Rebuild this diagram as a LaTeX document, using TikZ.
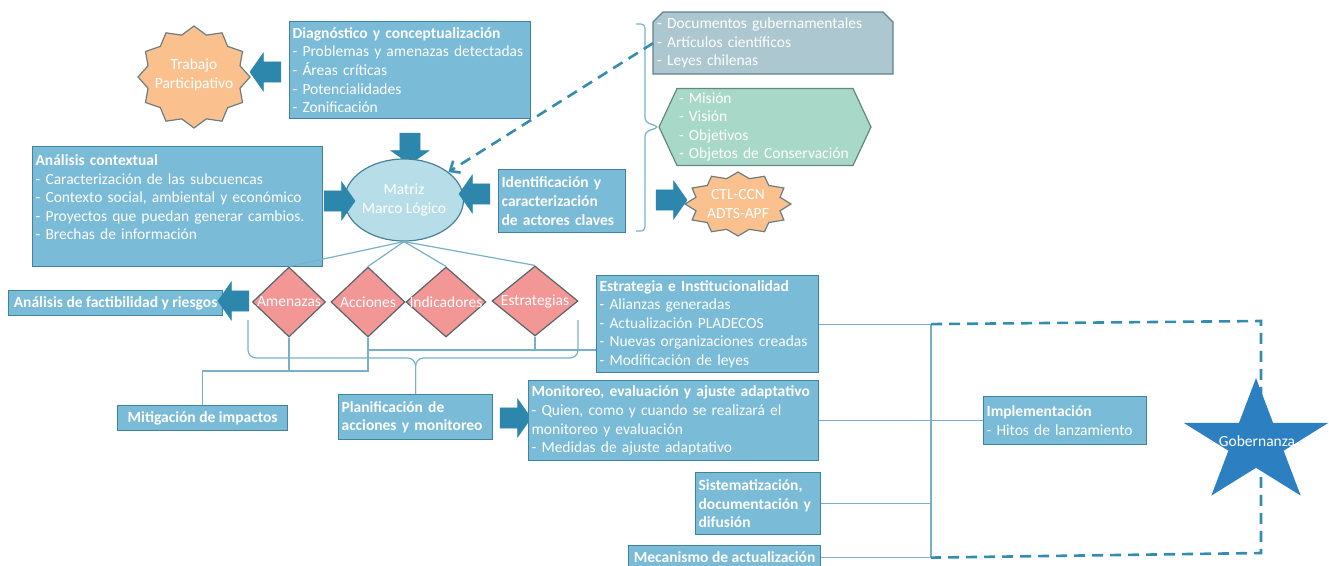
\documentclass[tikz,border=0pt]{standalone}
\usepackage{fontspec}
\setmainfont{Carlito}
\usetikzlibrary{shapes.geometric,shapes.arrows,shapes.symbols,arrows.meta}

\definecolor{boxblue}{RGB}{122,187,216}
\definecolor{boxedge}{RGB}{62,132,160}
\definecolor{arrowblue}{RGB}{45,134,172}
\definecolor{linkblue}{RGB}{120,176,200}
\definecolor{dashblue}{RGB}{52,140,176}
\definecolor{ellfill}{RGB}{183,222,232}
\definecolor{elledge}{RGB}{70,130,150}
\definecolor{rombofill}{RGB}{243,150,150}
\definecolor{romboedge}{RGB}{90,100,105}
\definecolor{sealfill}{RGB}{250,193,143}
\definecolor{sealedge}{RGB}{110,125,128}
\definecolor{docfill}{RGB}{172,199,208}
\definecolor{docedge}{RGB}{100,130,140}
\definecolor{misfill}{RGB}{168,216,199}
\definecolor{misedge}{RGB}{100,135,130}
\definecolor{govblue}{RGB}{44,128,194}

\newcommand{\diagfont}{\fontsize{15.5}{18.6}\selectfont}

\begin{document}
\begin{tikzpicture}[x=1pt,y=-1pt,
    box/.style={draw=boxedge,fill=boxblue,text=white,align=left,anchor=north west,inner sep=3pt,line width=1.2pt,font=\diagfont},
    hbox/.style={box,font=\diagfont\bfseries},
    bigarrow/.style={single arrow,fill=arrowblue,draw=arrowblue,inner xsep=0pt,inner ysep=10pt,single arrow head extend=9pt,single arrow tip angle=110,minimum height=31pt},
    link/.style={draw=linkblue,line width=1.2pt},
    dashlink/.style={draw=dashblue,line width=2.6pt,dash pattern=on 11pt off 7pt},
    rombo/.style={diamond,draw=romboedge,fill=rombofill,line width=1.2pt,inner sep=0pt,minimum height=70pt},
    romtext/.style={text=white,font=\diagfont},
    seal/.style={draw=sealedge,fill=sealfill,line width=1.2pt},
    lighttext/.style={text=white,align=center,font=\diagfont}]
  \useasboundingbox (0,0) rectangle (1329,565);

  % top row
  \filldraw[seal] (250,77) \foreach \i in {1,...,23} {-- ({194+56*cos(15*\i)*(1-0.15*mod(\i,2))},{77+51*sin(15*\i)*(1-0.15*mod(\i,2))})} -- cycle;
  \node[lighttext] (trabajo) at (194,75) {Trabajo\\Participativo};
  \node[box,text width=235pt,minimum height=97pt] (diag) at (289,21)
    {\textbf{Diagnóstico y conceptualización}\\- Problemas y amenazas detectadas\\- Áreas críticas\\- Potencialidades\\- Zonificación};
  \node[bigarrow,rotate=180] (adiag) at (269,72) {};
  \node[bigarrow,rotate=-90] (amat) at (410,145) {};

  % documentos, mision, actores
  \filldraw[draw=docedge,fill=docfill,line width=1.2pt] (653,74) -- (653,22) -- (663,12) -- (883,12) -- (893,22) -- (893,74) -- cycle;
  \node[text=white,align=left,font=\diagfont,anchor=north west,text width=232pt,minimum height=62pt,inner sep=4pt] (docs) at (653,12)
    {- Documentos gubernamentales\\- Artículos científicos\\- Leyes chilenas};
  \node[signal,signal to=west and east,signal pointer angle=130,draw=misedge,fill=misfill,line width=1.2pt,text=white,align=left,font=\diagfont,
    text width=172pt,minimum height=77pt,inner sep=2pt] (mision) at (765,127)
    {- Misión\\- Visión\\- Objetivos\\- Objetos de Conservación};
  \draw[linkblue,line width=1.2pt,rounded corners=4pt] (636,24) -- (645,24) -- (645,122) -- (659,127) -- (645,132) -- (645,231) -- (636,231);
  \filldraw[seal] (791,204) \foreach \i in {1,...,23} {-- ({738+53*cos(15*\i)*(1-0.18*mod(\i,2))},{204+32*sin(15*\i)*(1-0.18*mod(\i,2))})} -- cycle;
  \node[lighttext] (ctl) at (738,204) {CTL-CCN\\ADTS-APF};
  \node[bigarrow] (actl) at (668,200) {};

  % matriz
  \node[box,text width=284pt,minimum height=120pt] (contexto) at (32,146)
    {\textbf{Análisis contextual}\\- Caracterización de las subcuencas\\- Contexto social, ambiental y económico\\- Proyectos que puedan generar cambios.\\- Brechas de información\\\mbox{}};
  \node[ellipse,draw=elledge,fill=ellfill,line width=1.2pt,minimum width=112pt,minimum height=82pt,inner sep=0pt,text=white,align=center,font=\diagfont] (matriz) at (404,200)
    {Matriz\\Marco Lógico};
  \node[hbox,text width=121pt,minimum height=63pt] (actores) at (498,169)
    {Identificación y\\caracterización\\de actores claves};
  \node[bigarrow] (actx) at (336,201) {};
  \node[bigarrow,rotate=180] (aact) at (478,194) {};
  \draw[dashlink,-{Straight Barb[length=8pt,width=14pt]}] (docs.west) -- (matriz);

  % rombos
  \node[rombo,minimum width=73pt,label={[romtext]center:Amenazas}] (amen) at (289,302) {};
  \node[rombo,minimum width=74pt,label={[romtext]center:Acciones}] (acc) at (368,302) {};
  \node[rombo,minimum width=80pt,label={[romtext]center:Indicadores}] (ind) at (446,302) {};
  \node[rombo,minimum width=86pt,label={[romtext]center:Estrategias}] (estr) at (535,301) {};
  \foreach \r in {amen,acc,ind,estr} \draw[link] (matriz.south) -- (\r.north);
  \node[hbox,minimum width=214pt,minimum height=25pt,inner xsep=1pt] (factib) at (8,290) {Análisis de factibilidad y riesgos};
  \node[bigarrow,rotate=180] (afac) at (237,301) {};

  % planificacion
  \node[hbox,minimum width=170pt,minimum height=25pt] (mitig) at (117,405) {Mitigación de impactos};
  \node[hbox,text width=148pt,minimum height=45pt] (plan) at (338,394) {Planificación de\\acciones y monitoreo};
  \node[bigarrow] (aplan) at (512,418) {};
  \node[box,text width=216pt,minimum height=97pt] (estinst) at (596,275)
    {\textbf{Estrategia e Institucionalidad}\\- Alianzas generadas\\- Actualización PLADECOS\\- Nuevas organizaciones creadas\\- Modificación de leyes};
  \node[box,text width=284pt,minimum height=80pt] (monit) at (528,380)
    {\textbf{Monitoreo, evaluación y ajuste adaptativo}\\- Quien, como y cuando se realizará el\\monitoreo y evaluación\\- Medidas de ajuste adaptativo};
  \node[hbox,text width=119pt,minimum height=62pt] (sist) at (695,472) {Sistematización,\\documentación y\\difusión};
  \node[hbox,minimum width=192pt,minimum height=24pt] (mecan) at (628,545) {Mecanismo de actualización};
  \draw[link] (mitig.north) -- ++(0,-34) coordinate (lowbus) -| (acc.south);
  \draw[link] (amen.south) -- (amen.south |- lowbus);
  \draw[link] (acc.south) |- (estinst.west |- 0,350) coordinate (midbus);
  \draw[link] (estr.south) -- (estr.south |- midbus);
  \draw[link,rounded corners=8pt] (248,320) -- (248,358) -- (plan.north |- 0,358) -- (plan.north);
  \draw[link,rounded corners=8pt] (578,320) -- (578,358) -- (plan.north |- 0,358) -- (plan.north);

  % implementacion y gobernanza
  \node[box,text width=157pt,minimum height=48pt] (impl) at (983,396) {\textbf{Implementación}\\- Hitos de lanzamiento};
  \coordinate (bus) at (931,0);
  \draw[link] (estinst.east) -- (estinst.east -| bus) -- (mecan.east -| bus) -- (mecan.east);
  \draw[link] (monit.east) -- (impl.west);
  \draw[link] (sist.east) -- (sist.east -| bus);
  \coordinate (gtop) at (1261,321);
  \coordinate (gbot) at (1261,553);
  \draw[dashlink] (estinst.east -| bus) -- (gtop) -- (gbot) -- (mecan.east -| bus);
  \fill[govblue] (1256,378) \foreach \i in {1,...,9} {-- ({1256+76*cos(90+36*\i)*(1-0.618*mod(\i,2))},{443-65*sin(90+36*\i)*(1-0.618*mod(\i,2))})} -- cycle;
  \node[lighttext] (gob) at (1257,441) {Gobernanza};
\end{tikzpicture}
\end{document}
